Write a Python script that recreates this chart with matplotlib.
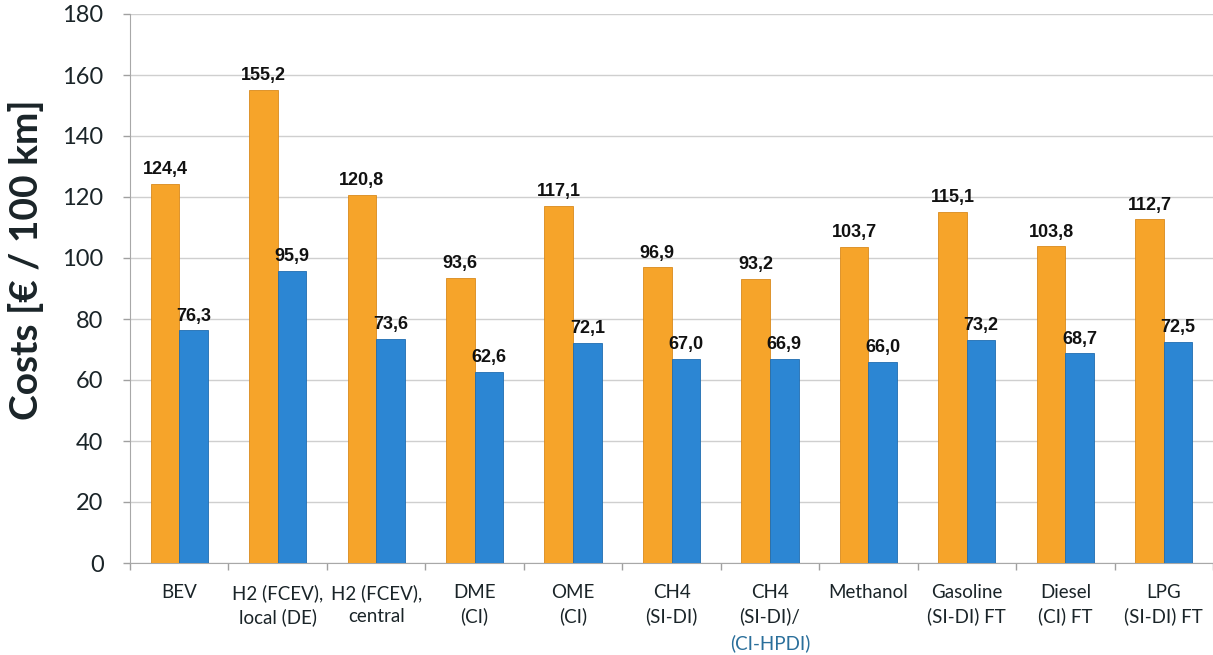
import numpy as np
import matplotlib
matplotlib.use("Agg")
import matplotlib.pyplot as plt

# data
categories = ["BEV", "H2 (FCEV),\nlocal (DE)", "H2 (FCEV),\ncentral", "DME\n(CI)", "OME\n(CI)",
              "CH4\n(SI-DI)", "CH4\n(SI-DI)/", "Methanol", "Gasoline\n(SI-DI) FT",
              "Diesel\n(CI) FT", "LPG\n(SI-DI) FT"]
extra_line = "(CI-HPDI)"   # third line under "CH4 (SI-DI)/", drawn in blue
extra_idx = 6
costs_orange = [124.4, 155.2, 120.8, 93.6, 117.1, 96.9, 93.2, 103.7, 115.1, 103.8, 112.7]
costs_blue = [76.3, 95.9, 73.6, 62.6, 72.1, 67.0, 66.9, 66.0, 73.2, 68.7, 72.5]
yticks = [0, 20, 40, 60, 80, 100, 120, 140, 160, 180]

orange = "#F6A42A"
blue = "#2C86D3"
txt_col = "#1a2428"

fig = plt.figure(figsize=(12.13, 6.55), dpi=100)
ax = fig.add_axes([130 / 1213, 92 / 655, 1083 / 1213, 549 / 655])

x = np.arange(len(categories))
w = 0.29
ax.bar(x - w / 2, costs_orange, w, color=orange, edgecolor="#d98a1c", linewidth=0.6, zorder=3)
ax.bar(x + w / 2, costs_blue, w, color=blue, edgecolor="#1f6cb0", linewidth=0.6, zorder=3)

def fmt(v):
    return f"{v:.1f}".replace(".", ",")

for xi, v in zip(x, costs_orange):
    ax.annotate(fmt(v), (xi - w / 2, v), xytext=(0, 7), textcoords="offset points",
                ha="center", va="baseline", fontsize=13, fontweight="bold",
                family=["Liberation Sans", "DejaVu Sans"], color="#111111", zorder=4)
for xi, v in zip(x, costs_blue):
    ax.annotate(fmt(v), (xi + w / 2, v), xytext=(0, 7), textcoords="offset points",
                ha="center", va="baseline", fontsize=13, fontweight="bold",
                family=["Liberation Sans", "DejaVu Sans"], color="#111111", zorder=4)

ax.set_xlim(-0.5, 10.5)
ax.set_ylim(0, 180)
ax.set_yticks(yticks)
ax.set_yticklabels([str(t) for t in yticks], fontsize=17, family=["Lato", "DejaVu Sans"], color=txt_col)
ax.tick_params(axis="y", length=5, width=1, color="#a0a0a0", pad=14)

ax.set_xticks(x)
ax.set_xticklabels(categories, fontsize=13.5, family=["Lato", "DejaVu Sans"], color=txt_col,
                   linespacing=1.45)
ax.set_xticks(np.arange(-0.5, 11, 1), minor=True)
ax.tick_params(axis="x", which="major", length=0, pad=15)
ax.tick_params(axis="x", which="minor", length=5, width=1, color="#a0a0a0")

ax.annotate(extra_line, (extra_idx, 0), xycoords=("data", "axes fraction"),
            xytext=(0, -58), textcoords="offset points", ha="center", va="center",
            fontsize=13.5, family=["Lato", "DejaVu Sans"], color="#2a6f9b")

ax.grid(axis="y", color="#cfcfcf", linewidth=1, zorder=0)
ax.set_axisbelow(True)
for s in ["top", "right"]:
    ax.spines[s].set_visible(False)
ax.spines["left"].set_color("#a8a8a8")
ax.spines["bottom"].set_color("#a8a8a8")

ax.set_ylabel("Costs [€ / 100 km]", fontsize=28, fontweight="bold",
              family=["Lato", "DejaVu Sans"], color=txt_col)
ax.yaxis.set_label_coords(-0.079, 0.552)

fig.savefig("out.png", dpi=100)
